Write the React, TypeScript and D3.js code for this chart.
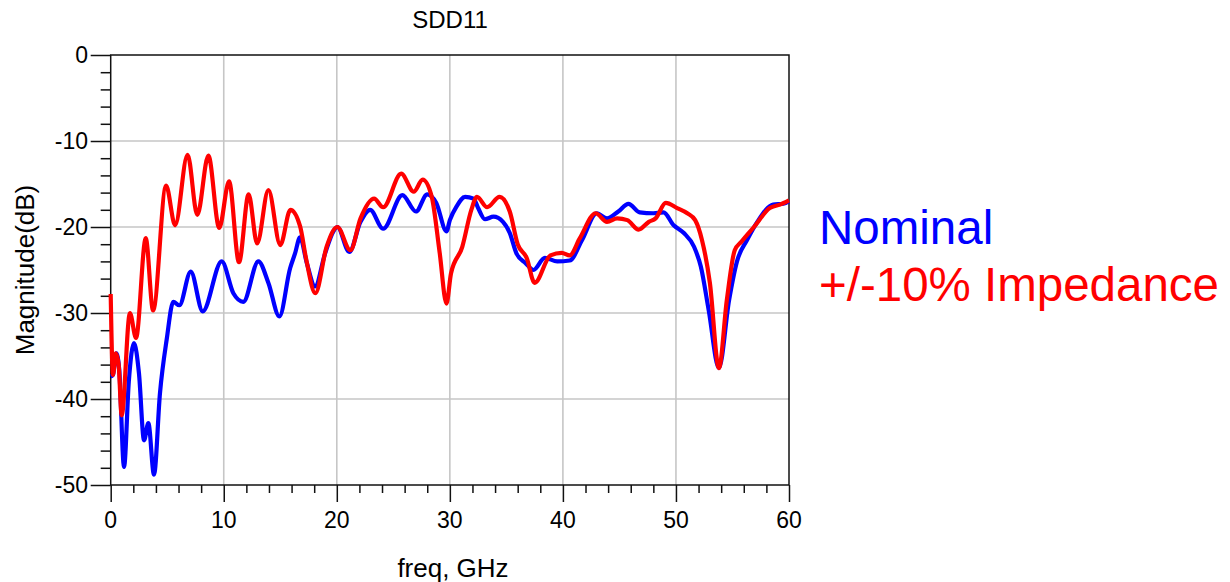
import React, { useEffect, useRef } from 'react';
import * as d3 from 'd3';

// frequency (GHz), magnitude (dB)
const nominal: [number, number][] = [
  [0, -37.4], [0.2, -37.2], [0.5, -34.7], [0.75, -36.5], [1.18, -47.9], [1.6, -38], [2.06, -33.5],
  [2.5, -37], [2.95, -44.8], [3.33, -42.8], [3.83, -48.8], [4.36, -39.3], [4.95, -33.1],
  [5.54, -28.7], [6.07, -29.1], [7.08, -25.2], [8.14, -29.8], [9.82, -24.0], [10.85, -27.7],
  [11.73, -28.7], [13.06, -24.0], [13.95, -26.5], [14.92, -30.4], [15.87, -24.8], [16.3, -23.1],
  [16.75, -21.2], [17.35, -24.2], [18.08, -26.9], [18.96, -23.1], [19.7, -20.5], [20.05, -20.0],
  [21.1, -22.9], [22.1, -19.4], [22.95, -18.0], [24.1, -20.2], [25.8, -16.3], [27.0, -18.2],
  [28.0, -16.2], [28.8, -17.2], [29.7, -20.5], [30.0, -19.2], [30.6, -17.6], [31.35, -16.5],
  [32.1, -16.7], [32.5, -17.8], [33.1, -19.1], [33.86, -18.8], [34.7, -19.4], [35.3, -20.7],
  [35.9, -23.1], [36.7, -24.2], [37.4, -25.0], [38.4, -23.6], [39.5, -24.0], [40.6, -23.9],
  [41.7, -21.5], [43.0, -18.4], [43.9, -19.0], [44.9, -18.2], [45.8, -17.3], [46.8, -18.3],
  [48.0, -18.4], [48.9, -18.3], [49.8, -19.8], [50.7, -20.7], [51.6, -22.3], [52.2, -24.6],
  [52.9, -29.7], [53.8, -36.4], [54.7, -28.5], [55.4, -24.0], [56.3, -21.5], [57.2, -19.4],
  [58.6, -17.4], [59.5, -17.3], [60, -17.0],
];

const impedance: [number, number][] = [
  [0, -27.8], [0.2, -37.2], [0.45, -34.7], [0.7, -36], [0.97, -41.9], [1.7, -30.0], [2.24, -32.9],
  [3.1, -21.3], [3.75, -29.7], [4.9, -15.2], [5.7, -19.8], [6.8, -11.6], [7.66, -18.6],
  [8.64, -11.7], [9.6, -20.1], [10.47, -14.7], [11.35, -24.1], [12.2, -16.2], [12.95, -21.9],
  [13.95, -15.7], [15.0, -22.1], [15.9, -18.0], [16.75, -19.9], [17.3, -23.8], [18.1, -27.7],
  [19.1, -22.3], [20.05, -20.0], [21.2, -22.7], [22.1, -19.0], [23.3, -16.7], [24.1, -17.7],
  [25.7, -13.8], [26.8, -15.9], [27.6, -14.5], [28.4, -16.5], [29.1, -23.0], [29.7, -28.9],
  [30.1, -25.4], [31.1, -22.3], [31.9, -18.0], [32.4, -16.5], [33.3, -17.7], [34.4, -16.5],
  [35.3, -18.2], [36.0, -22.0], [36.8, -23.6], [37.5, -26.5], [38.9, -23.3], [39.9, -23.0],
  [40.6, -23.3], [41.5, -21.3], [42.9, -18.4], [43.9, -19.4], [44.8, -19.0], [45.7, -19.2],
  [46.7, -20.3], [47.6, -19.4], [48.2, -19.0], [49.1, -17.2], [50.1, -17.8], [51.0, -18.4],
  [51.7, -19.2], [52.3, -21.5], [53.0, -26.5], [53.8, -36.4], [54.5, -28.5], [55.2, -22.7],
  [55.8, -21.7], [56.9, -20.0], [58.3, -17.8], [59.2, -17.4], [60, -16.9],
];

const xTicks = [0, 10, 20, 30, 40, 50, 60];
const yTicks = [0, -10, -20, -30, -40, -50];

const App = () => {
  const ref = useRef<SVGSVGElement>(null);

  useEffect(() => {
    const svg = d3.select(ref.current);
    svg.selectAll('*').remove();

    const left = 110.7, right = 789, top = 55, bottom = 485;
    const x = d3.scaleLinear().domain([0, 60]).range([left, right]);
    const y = d3.scaleLinear().domain([-50, 0]).range([bottom, top]);
    const font = 'Liberation Sans, Arial, sans-serif';

    // grid
    svg.append('g')
      .selectAll('line.gx')
      .data(xTicks.slice(1, -1))
      .enter().append('line')
      .attr('x1', d => x(d)).attr('x2', d => x(d))
      .attr('y1', top).attr('y2', bottom)
      .attr('stroke', '#c6c6c6').attr('stroke-width', 1.6);
    svg.append('g')
      .selectAll('line.gy')
      .data(yTicks.slice(1, -1))
      .enter().append('line')
      .attr('x1', left).attr('x2', right)
      .attr('y1', d => y(d)).attr('y2', d => y(d))
      .attr('stroke', '#c6c6c6').attr('stroke-width', 1.6);

    // axes
    const xAxis = svg.append('g')
      .attr('transform', `translate(0,${bottom})`)
      .call(d3.axisBottom(x).tickValues(d3.range(0, 61, 2)).tickSize(8).tickFormat(() => ''));
    xAxis.selectAll('.tick line')
      .attr('y2', (d: any) => (d % 10 === 0 ? 17 : 8));
    xAxis.select('.domain').remove();

    const yAxis = svg.append('g')
      .attr('transform', `translate(${left},0)`)
      .call(d3.axisLeft(y).tickValues(d3.range(-50, 1, 2)).tickSize(10).tickFormat(() => ''));
    yAxis.selectAll('.tick line')
      .attr('x2', (d: any) => (d % 10 === 0 ? -20 : -10));
    yAxis.select('.domain').remove();
    svg.selectAll('.tick line').attr('stroke', '#111').attr('stroke-width', 1.5);

    svg.append('rect')
      .attr('x', left).attr('y', top)
      .attr('width', right - left).attr('height', bottom - top)
      .attr('fill', 'none').attr('stroke', '#111').attr('stroke-width', 1.5);

    // tick labels
    svg.selectAll('text.xl')
      .data(xTicks)
      .enter().append('text')
      .attr('x', d => x(d)).attr('y', 528)
      .attr('text-anchor', 'middle')
      .style('font-family', font).style('font-size', '23px')
      .text(d => d);
    svg.selectAll('text.yl')
      .data(yTicks)
      .enter().append('text')
      .attr('x', 88).attr('y', d => y(d) + 8)
      .attr('text-anchor', 'end')
      .style('font-family', font).style('font-size', '23px')
      .text(d => d);

    // lines
    const line = d3.line<[number, number]>()
      .x(d => x(d[0]))
      .y(d => y(d[1]))
      .curve(d3.curveMonotoneX);

    svg.append('path').datum(nominal)
      .attr('d', line).attr('fill', 'none')
      .attr('stroke', '#0000ff').attr('stroke-width', 4.2).attr('stroke-linejoin', 'round');
    svg.append('path').datum(impedance)
      .attr('d', line).attr('fill', 'none')
      .attr('stroke', '#ff0000').attr('stroke-width', 4.2).attr('stroke-linejoin', 'round');

    // titles
    svg.append('text')
      .attr('x', 450).attr('y', 28).attr('text-anchor', 'middle')
      .style('font-family', font).style('font-size', '24px')
      .text('SDD11');
    svg.append('text')
      .attr('x', 453).attr('y', 577).attr('text-anchor', 'middle')
      .style('font-family', font).style('font-size', '26px')
      .text('freq, GHz');
    svg.append('text')
      .attr('transform', 'translate(34,270) rotate(-90)')
      .attr('text-anchor', 'middle')
      .style('font-family', font).style('font-size', '26px')
      .text('Magnitude(dB)');

    // legend
    svg.append('text')
      .attr('x', 819).attr('y', 244)
      .attr('fill', '#0000ff')
      .style('font-family', font).style('font-size', '47.5px')
      .text('Nominal');
    svg.append('text')
      .attr('x', 819).attr('y', 301)
      .attr('fill', '#ff0000')
      .style('font-family', font).style('font-size', '47.5px')
      .text('+/-10% Impedance');
  }, []);

  return (
    <svg
      ref={ref}
      width={1230}
      height={582}
      style={{ position: 'absolute', left: 0, top: 0, background: '#fff' }}
    />
  );
};

export default App;
